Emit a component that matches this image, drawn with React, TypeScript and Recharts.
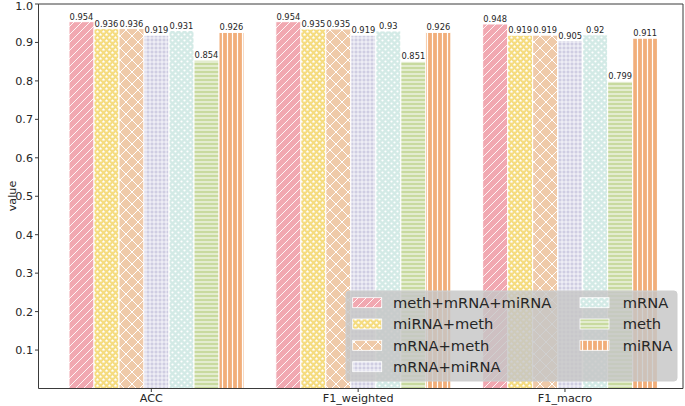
import React from 'react';
import { BarChart, Bar, XAxis, YAxis, LabelList } from 'recharts';

const categories = ['ACC', 'F1_weighted', 'F1_macro'];
const seriesNames = ['meth+mRNA+miRNA', 'miRNA+meth', 'mRNA+meth', 'mRNA+miRNA', 'mRNA', 'meth', 'miRNA'];
const methMrnaMirna = [0.954, 0.954, 0.948];
const mirnaMeth = [0.936, 0.935, 0.919];
const mrnaMeth = [0.936, 0.935, 0.919];
const mrnaMirna = [0.919, 0.919, 0.905];
const mrnaOnly = [0.931, 0.93, 0.92];
const methOnly = [0.854, 0.851, 0.799];
const mirnaOnly = [0.926, 0.926, 0.911];
const seriesValues = [methMrnaMirna, mirnaMeth, mrnaMeth, mrnaMirna, mrnaOnly, methOnly, mirnaOnly];
const yTicks = [0.1, 0.2, 0.3, 0.4, 0.5, 0.6, 0.7, 0.8, 0.9, 1.0];

const colors = ['#F1A8B1', '#F5DC80', '#EFCAA9', '#CFCDE2', '#D3EAE6', '#C8DA9F', '#F1AE7A'];

const data = categories.map((c, i) => {
  const row: any = { cat: c };
  seriesValues.forEach((arr, k) => { row['s' + k] = arr[i]; });
  return row;
});

const FONT = 'DejaVu Sans, sans-serif';
const TXT = '#262626';
const AX = '#3a3a3a';

function starPath(cx: number, cy: number, r: number) {
  const pts: string[] = [];
  for (let i = 0; i < 10; i++) {
    const rr = i % 2 === 0 ? r : r * 0.45;
    const a = -Math.PI / 2 + (i * Math.PI) / 5;
    pts.push((cx + rr * Math.cos(a)).toFixed(2) + ',' + (cy + rr * Math.sin(a)).toFixed(2));
  }
  return 'M' + pts.join('L') + 'Z';
}

function patternDefs(prefix: string) {
  const w = 'white';
  return (
    <defs>
      <pattern id={prefix + '0'} patternUnits="userSpaceOnUse" width={8} height={8}>
        <rect width={8} height={8} fill={colors[0]} />
        <path d="M-2,2 L2,-2 M0,8 L8,0 M6,10 L10,6" stroke={w} strokeWidth={0.9} />
      </pattern>
      <pattern id={prefix + '1'} patternUnits="userSpaceOnUse" width={6} height={6}>
        <rect width={6} height={6} fill={colors[1]} />
        <path d={starPath(1.5, 1.6, 1.8) + starPath(4.5, 4.6, 1.8)} fill={w} />
      </pattern>
      <pattern id={prefix + '2'} patternUnits="userSpaceOnUse" width={12} height={12}>
        <rect width={12} height={12} fill={colors[2]} />
        <path d="M0,0 L12,12 M12,0 L0,12" stroke={w} strokeWidth={1} />
      </pattern>
      <pattern id={prefix + '3'} patternUnits="userSpaceOnUse" width={4} height={4}>
        <rect width={4} height={4} fill={colors[3]} />
        <path d="M0,2 H4 M2,0 V4" stroke={w} strokeWidth={0.8} />
      </pattern>
      <pattern id={prefix + '4'} patternUnits="userSpaceOnUse" width={6} height={6}>
        <rect width={6} height={6} fill={colors[4]} />
        <circle cx={1.5} cy={1.5} r={1.1} fill={w} />
        <circle cx={4.5} cy={4.5} r={1.1} fill={w} />
      </pattern>
      <pattern id={prefix + '5'} patternUnits="userSpaceOnUse" width={4} height={4}>
        <rect width={4} height={4} fill={colors[5]} />
        <path d="M0,2 H4" stroke={w} strokeWidth={1} />
      </pattern>
      <pattern id={prefix + '6'} patternUnits="userSpaceOnUse" width={5} height={5}>
        <rect width={5} height={5} fill={colors[6]} />
        <path d="M2.5,0 V5" stroke={w} strokeWidth={1.2} />
      </pattern>
    </defs>
  );
}

const XTick = (props: any) => {
  const { x, y, payload } = props;
  const tx = x - 3.6;
  return (
    <g>
      <line x1={tx} x2={tx} y1={y - 5.5} y2={y - 2} stroke={AX} strokeWidth={1} />
      <text x={tx} y={y} dy="0.71em" textAnchor="middle" fontSize={11.2} fill={TXT} fontFamily={FONT}>
        {payload.value}
      </text>
    </g>
  );
};

function LegendOverlay() {
  const left = 346, top = 291, w = 331, h = 90;
  const rows = [302.7, 324, 345.3, 366.7];
  const cols = [{ sx: 352.7, tx: 393 }, { sx: 580, tx: 622.7 }];
  const items = seriesNames.map((n, i) => {
    const col = i < 4 ? cols[0] : cols[1];
    const ry = rows[i < 4 ? i : i - 4];
    return (
      <g key={n}>
        <rect x={col.sx} y={ry - 5} width={29} height={10} fill={'url(#lg' + i + ')'} stroke="white" strokeWidth={0.8} />
        <text x={col.tx} y={ry} dy="0.36em" fontSize={14.7} fill={TXT} fontFamily={FONT}>{n}</text>
      </g>
    );
  });
  return (
    <svg width={685} height={406} style={{ position: 'absolute', left: 0, top: 0, pointerEvents: 'none' }}>
      {patternDefs('lg')}
      <text x={12} y={196} transform="rotate(-90 12 196)" textAnchor="middle" dy="0.36em" fontSize={11.2} fill={TXT} fontFamily={FONT}>value</text>
      <rect x={left} y={top} width={w} height={h} rx={3} ry={3} fill="#c6c6c6" fillOpacity={0.82} stroke="#cfcfcf" strokeWidth={1} />
      {items}
    </svg>
  );
}

export default function App() {
  return (
    <div style={{ position: 'absolute', left: 0, top: 0, width: 685, height: 406, background: 'white' }}>
      <BarChart
        width={685}
        height={406}
        data={data}
        margin={{ top: 3, right: 1, bottom: 0, left: 0 }}
        barCategoryGap={17.5}
        barGap={0}
      >
        {patternDefs('bp')}
        <XAxis
          dataKey="cat"
          height={17.5}
          padding={{ left: 13, right: 11 }}
          tickLine={false}
          tickSize={3.5}
          tickMargin={2}
          tick={<XTick />}
          axisLine={{ stroke: AX, strokeWidth: 1 }}
          interval={0}
        />
        <XAxis
          xAxisId="top"
          dataKey="cat"
          orientation="top"
          height={1}
          tick={false}
          tickLine={false}
          axisLine={{ stroke: AX, strokeWidth: 1 }}
        />
        <YAxis
          width={38.5}
          domain={[0, 1]}
          ticks={yTicks}
          tickFormatter={(v: number) => v.toFixed(1)}
          tickSize={3.5}
          tickMargin={2}
          tick={{ fontSize: 11.2, fill: TXT, fontFamily: FONT }}
          tickLine={{ stroke: AX }}
          axisLine={{ stroke: AX, strokeWidth: 1 }}
          allowDataOverflow
        />
        <YAxis
          yAxisId="right"
          orientation="right"
          width={1}
          tick={false}
          tickLine={false}
          axisLine={{ stroke: AX, strokeWidth: 1 }}
        />
        {seriesNames.map((n, i) => (
          <Bar
            key={n}
            dataKey={'s' + i}
            name={n}
            fill={'url(#bp' + i + ')'}
            stroke="white"
            strokeWidth={1}
            isAnimationActive={false}
          >
            <LabelList
              dataKey={'s' + i}
              position="top"
              offset={2}
              formatter={(v: any) => String(v)}
              style={{ fontSize: 8.3, fill: TXT, fontFamily: FONT }}
            />
          </Bar>
        ))}
      </BarChart>
      <LegendOverlay />
    </div>
  );
}
